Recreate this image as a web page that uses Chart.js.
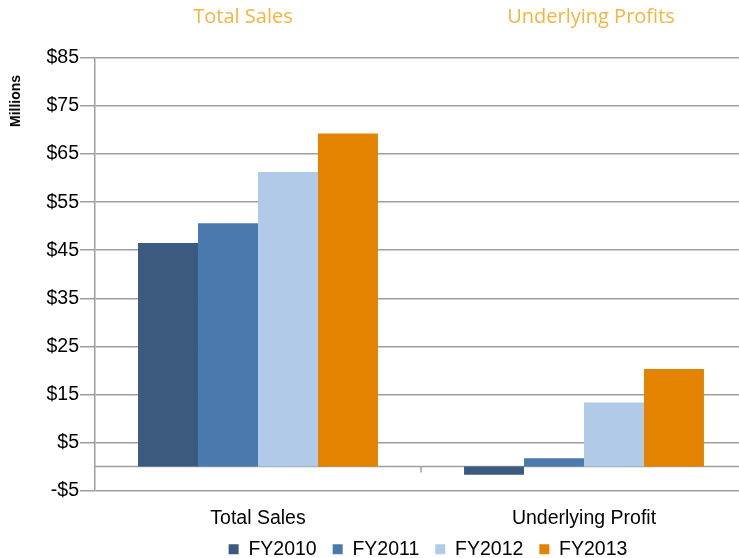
<!DOCTYPE html>
<html>
<head>
<meta charset="utf-8">
<script src="https://cdn.jsdelivr.net/npm/chart.js@4/dist/chart.umd.min.js"></script>
<style>
  html, body { margin: 0; padding: 0; background: #ffffff; }
  #wrap { position: relative; width: 739px; height: 558px; overflow: hidden; background: #fff; }
  #c { position: absolute; left: 0; top: 0; }
  .title { position: absolute; top: 2px; font-family: "Open Sans", sans-serif; font-size: 20px; color: #f3b53e; white-space: nowrap; transform: translateX(-50%); }
  #millions { position: absolute; left: 15px; top: 101px; font-family: "Liberation Sans", Arial, sans-serif; font-weight: bold; font-size: 14px; color: #000; transform: translate(-50%, -50%) rotate(-90deg); white-space: nowrap; }
</style>
</head>
<body>
<div id="wrap">
  <canvas id="c" width="760" height="576"></canvas>
  <div class="title" style="left:243px">Total Sales</div>
  <div class="title" style="left:591px">Underlying Profits</div>
  <div id="millions">Millions</div>
</div>
<script>
const categories = ["Total Sales", "Underlying Profit"];
const years = ["FY2010", "FY2011", "FY2012", "FY2013"];
const fy2010 = [46.5, -1.7];
const fy2011 = [50.6, 1.7];
const fy2012 = [61.3, 13.3];
const fy2013 = [69.3, 20.3];
const yTicks = [-5, 5, 15, 25, 35, 45, 55, 65, 75, 85];
const colors = ["#3c5a7f", "#4a7aad", "#b0cae8", "#e38300"];

const series = [fy2010, fy2011, fy2012, fy2013];
const FONT = "'Liberation Sans', Arial, sans-serif";

const zeroLine = {
  id: "zeroLine",
  afterLayout(chart) {
    const lg = chart.legend;
    if (lg) { lg.left += 7; lg.right += 7; lg.top -= 7; lg.bottom -= 7; }
  },
  beforeDatasetsDraw(chart) {
    const { ctx, chartArea, scales } = chart;
    const y0 = scales.y.getPixelForValue(0);
    ctx.save();
    ctx.strokeStyle = "#9e9e9e";
    ctx.lineWidth = 1.5;
    ctx.beginPath();
    ctx.moveTo(chartArea.left, y0);
    ctx.lineTo(chartArea.right, y0);
    const xs = scales.x;
    const mid = (xs.getPixelForValue(0) + xs.getPixelForValue(1)) / 2;
    ctx.moveTo(mid, y0);
    ctx.lineTo(mid, y0 + 6);
    ctx.stroke();
    ctx.restore();
  }
};

new Chart(document.getElementById("c"), {
  type: "bar",
  data: {
    labels: categories,
    datasets: years.map((yr, i) => ({
      label: yr,
      data: series[i],
      backgroundColor: colors[i],
      borderWidth: 0,
      categoryPercentage: 0.736,
      barPercentage: 1.0
    }))
  },
  options: {
    responsive: false,
    animation: false,
    devicePixelRatio: 1,
    layout: { padding: { top: 58, right: 13, left: 0, bottom: 0 } },
    plugins: {
      tooltip: { enabled: false },
      legend: {
        position: "bottom",
        fullSize: false,
        labels: {
          boxWidth: 10,
          boxHeight: 10,
          padding: 16,
          color: "#000",
          font: { family: FONT, size: 19.5 }
        }
      }
    },
    scales: {
      x: {
        grid: { display: false, drawTicks: false },
        border: { display: false },
        ticks: {
          padding: 16,
          color: "#000",
          font: { family: FONT, size: 19.5 }
        },
        afterFit(scale) { scale.height = 40; }
      },
      y: {
        min: -5,
        max: 85,
        afterBuildTicks(scale) { scale.ticks = yTicks.map(v => ({ value: v })); },
        grid: { color: "#9e9e9e", lineWidth: 1.5, tickLength: 15, drawTicks: true },
        border: { display: true, color: "#9e9e9e", width: 1.5 },
        ticks: {
          padding: 1,
          color: "#000",
          font: { family: FONT, size: 19.5 },
          callback: v => (v < 0 ? "-$" : "$") + Math.abs(v)
        },
        afterFit(scale) { scale.width = 95; }
      }
    }
  },
  plugins: [zeroLine]
});
</script>
</body>
</html>
